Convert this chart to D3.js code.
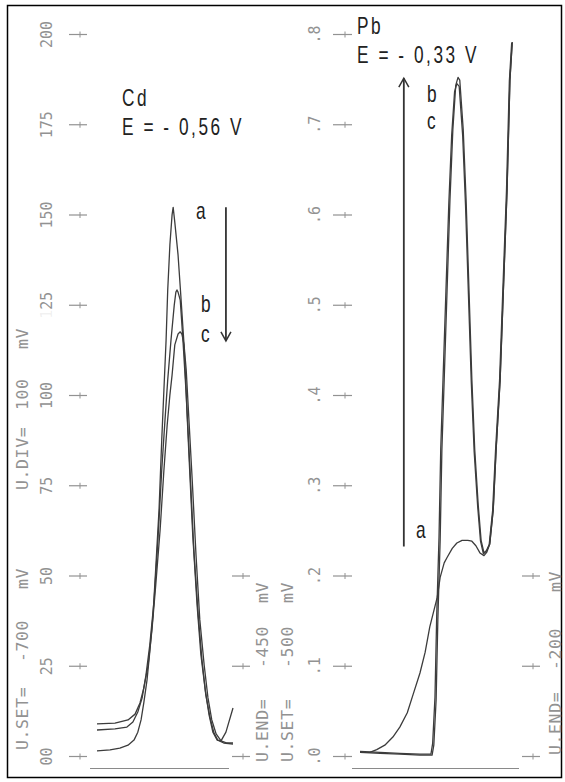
<!DOCTYPE html>
<html>
<head>
<meta charset="utf-8">
<script src="https://cdn.jsdelivr.net/npm/d3@7"></script>
<style>
  html, body { margin: 0; padding: 0; background: #fff; }
  svg { display: block; }
</style>
</head>
<body>
<svg id="chart" width="565" height="782"></svg>
<script>
// ---- Cd stripping peaks (potential in mV, current in scale units) ----
const cdE_a = [-700,-676,-658,-643,-632,-625,-619,-614,-608,-603,-597,-592,-586,-581,-577,-573,-570,-566,-562,-560,-557,-551,-546,-540,-535,-529,-522,-514,-507,-500,-492,-485,-478,-467,-450];
const cdI_a = [1.4,1.7,2.2,3.0,4.4,6.6,10.0,14.7,21.1,28.8,39.1,52.1,68.1,87.5,101.4,115.2,129.1,141.6,149.9,152.0,147.9,138.8,127.7,113.9,97.2,79.2,57.1,39.1,26.6,16.9,10.5,6.4,4.4,3.6,3.3];

const cdE_b = [-700,-667,-645,-634,-625,-617,-610,-603,-595,-588,-581,-575,-570,-564,-558,-555,-553,-551,-547,-542,-536,-531,-524,-516,-509,-501,-494,-487,-479,-472,-463,-450];
const cdI_b = [7.2,7.5,8.0,9.4,12.2,16.1,22.4,30.7,43.2,59.8,79.2,93.1,104.2,115.2,124.9,128.5,129.1,128.5,126.3,115.2,100.0,83.4,61.2,41.8,28.0,18.3,11.4,6.6,4.4,4.2,6.6,13.3];

const cdE_c = [-700,-667,-643,-630,-621,-614,-606,-599,-592,-584,-577,-571,-566,-562,-557,-551,-547,-544,-540,-536,-531,-525,-518,-511,-503,-496,-489,-481,-472,-461,-450];
const cdI_c = [8.9,9.1,10.0,11.6,14.7,18.8,25.2,34.9,47.4,62.6,79.2,91.7,100.0,105.5,113.9,116.9,117.5,116.9,113.9,106.9,93.1,76.5,55.7,37.7,25.2,16.1,10.0,6.1,4.2,3.6,3.6];

// ---- Pb stripping peaks ----
const pbE_a = [-500,-483,-471,-457,-443,-431,-418,-408,-396,-387,-379,-366,-361,-354,-349,-340,-332,-323,-313,-306,-299,-292,-285,-280,-275,-269,-264,-257,-252,-245,-240,-236];
const pbI_a = [0.004,0.004,0.007,0.012,0.021,0.032,0.048,0.068,0.092,0.115,0.143,0.176,0.198,0.214,0.220,0.230,0.236,0.239,0.239,0.238,0.233,0.225,0.222,0.226,0.235,0.273,0.339,0.417,0.505,0.627,0.749,0.791];

const pbE_b = [-500,-465,-431,-396,-375,-372,-368,-365,-361,-358,-354,-349,-344,-339,-334,-330,-327,-321,-316,-311,-306,-301,-295,-290,-285,-280,-275,-269,-264,-257,-252,-245,-240,-236];
const pbI_b = [0.004,0.003,0.002,0.001,0.001,0.012,0.062,0.151,0.239,0.339,0.417,0.516,0.616,0.694,0.743,0.752,0.749,0.694,0.616,0.516,0.417,0.339,0.278,0.239,0.225,0.228,0.235,0.273,0.339,0.417,0.505,0.627,0.749,0.791];

const pbE_c = [-500,-465,-431,-396,-377,-374,-370,-367,-363,-360,-356,-351,-346,-341,-336,-332,-328,-322,-317,-312,-307,-302,-296,-291,-286,-281,-276,-270,-265,-258,-253,-246,-241,-237];
const pbI_c = [0.005,0.004,0.003,0.002,0.002,0.014,0.065,0.155,0.242,0.340,0.418,0.515,0.612,0.688,0.736,0.745,0.742,0.688,0.610,0.512,0.414,0.337,0.277,0.238,0.224,0.227,0.234,0.272,0.338,0.416,0.504,0.626,0.748,0.790];

// ---- tick values and labels ----
const cdTicks = [0,25,50,75,100,125,150,175,200];
const cdTickLabels = ["00","25","50","75","100","125","150","175","200"];
const pbTicks = [0,0.1,0.2,0.3,0.4,0.5,0.6,0.7,0.8];
const pbTickLabels = [".0",".1",".2",".3",".4",".5",".6",".7",".8"];
const sideTicks = [0,0.1,0.2];

// ---- instrument settings ----
const cdSet = -700, cdEnd = -450, pbSet = -500, pbEnd = -200, uDiv = 100;

const svg = d3.select("#chart");
const GRAY = "#929292";
const MONO = "'DejaVu Sans Mono', 'Liberation Mono', monospace";
const SANS = "'Liberation Sans', Arial, sans-serif";

const cdX = d3.scaleLinear().domain([cdSet, cdEnd]).range([97, 233]);
const cdY = d3.scaleLinear().domain([0, 200]).range([756, 34]);
const pbX = d3.scaleLinear().domain([pbSet, pbEnd]).range([360, 533]);
const pbY = d3.scaleLinear().domain([0, 0.8]).range([756, 34]);

// outer frame
svg.append("rect").attr("x", 7.5).attr("y", 5.5).attr("width", 554).attr("height", 772)
  .attr("fill", "none").attr("stroke", "#000").attr("stroke-width", 1.5);

// baselines
svg.append("line").attr("x1", 90).attr("x2", 229).attr("y1", 768.5).attr("y2", 768.5)
  .attr("stroke", "#8a8a8a").attr("stroke-width", 1.2);
svg.append("line").attr("x1", 352).attr("x2", 519).attr("y1", 768.5).attr("y2", 768.5)
  .attr("stroke", "#8a8a8a").attr("stroke-width", 1.2);

function styleAxis(g, labelShift) {
  g.attr("font-family", MONO).attr("font-size", 15);
  g.select(".domain").remove();
  g.selectAll(".tick line").attr("stroke", GRAY).attr("stroke-width", 1.2);
  g.selectAll(".tick").append("line")
    .attr("x1", -7).attr("x2", -7).attr("y1", -3).attr("y2", 3)
    .attr("stroke", GRAY).attr("stroke-width", 1);
  g.selectAll(".tick text")
    .attr("x", null).attr("dy", "0.36em").attr("fill", GRAY)
    .attr("text-anchor", "middle")
    .attr("transform", `translate(${labelShift},0) rotate(-90)`);
}

// Cd current axis
const cdAxis = d3.axisLeft(cdY).tickValues(cdTicks).tickSize(18)
  .tickFormat((d, i) => cdTickLabels[i]);
const gCd = svg.append("g").attr("transform", "translate(87,0)").call(cdAxis);
styleAxis(gCd, -40);
// faded leading digit of 125
gCd.selectAll(".tick text").filter((d) => d === 125).each(function () {
  const t = d3.select(this); t.text(null);
  t.append("tspan").attr("fill-opacity", 0.15).text("1");
  t.append("tspan").text("25");
});

// Pb current axis
const pbAxis = d3.axisLeft(pbY).tickValues(pbTicks).tickSize(19)
  .tickFormat((d, i) => pbTickLabels[i]);
const gPb = svg.append("g").attr("transform", "translate(352,0)").call(pbAxis);
styleAxis(gPb, -37);

// short end-of-scan tick marks
[250, 540].forEach((x) => {
  const g = svg.append("g").attr("transform", `translate(${x},0)`)
    .call(d3.axisLeft(pbY).tickValues(sideTicks).tickSize(18).tickFormat(""));
  styleAxis(g, 0);
});

// rotated instrument notes: name, value and unit placed along the column
function note(x, parts) {
  parts.forEach(([y, str]) => {
    svg.append("text").attr("transform", `translate(${x},${y}) rotate(-90)`)
      .attr("dy", "0.36em").attr("font-family", MONO).attr("font-size", 16.5)
      .attr("letter-spacing", 0.6).attr("fill", GRAY).text(str);
  });
}
note(22, [[490, "U.DIV="], [410, String(uDiv)], [349, "mV"]]);
note(22, [[750, "U.SET="], [662, String(cdSet)], [589, "mV"]]);
note(262, [[762, "U.END="], [668, String(cdEnd)], [603, "mV"]]);
note(287, [[762, "U.SET="], [668, String(pbSet)], [603, "mV"]]);
note(555, [[755, "U.END="], [670, String(pbEnd)], [592, "mV"]]);

// curves
const lineCd = d3.line().x((d) => cdX(d[0])).y((d) => cdY(d[1]));
const linePb = d3.line().x((d) => pbX(d[0])).y((d) => pbY(d[1]));
const zip = (a, b) => a.map((v, i) => [v, b[i]]);

[[cdE_a, cdI_a], [cdE_b, cdI_b], [cdE_c, cdI_c]].forEach(([e, i]) => {
  svg.append("path").attr("d", lineCd(zip(e, i)))
    .attr("fill", "none").attr("stroke", "#3c3c3c").attr("stroke-width", 1.3)
    .attr("stroke-linejoin", "round");
});
[[pbE_a, pbI_a], [pbE_b, pbI_b], [pbE_c, pbI_c]].forEach(([e, i]) => {
  svg.append("path").attr("d", linePb(zip(e, i)))
    .attr("fill", "none").attr("stroke", "#3c3c3c").attr("stroke-width", 1.3)
    .attr("stroke-linejoin", "round");
});

// trend arrows
function arrow(x, y0, y1) {
  const dir = y1 > y0 ? -1 : 1;
  svg.append("line").attr("x1", x).attr("x2", x).attr("y1", y0).attr("y2", y1)
    .attr("stroke", "#333").attr("stroke-width", 1.8);
  svg.append("path")
    .attr("d", `M${x - 5},${y1 + dir * 9}L${x},${y1}L${x + 5},${y1 + dir * 9}`)
    .attr("fill", "none").attr("stroke", "#333").attr("stroke-width", 1.5);
}
arrow(cdX(-463), cdY(152), cdY(115));
arrow(pbX(-424), pbY(0.232), pbY(0.751));

// labels
function label(x, y, str) {
  svg.append("text").attr("transform", `translate(${x},${y}) scale(0.75,1)`)
    .attr("font-family", SANS).attr("font-size", 23).attr("letter-spacing", 3.4)
    .attr("fill", "#222").text(str);
}
label(122, 106, "Cd");
label(122, 135, "E = - 0,56 V");
label(357, 34, "Pb");
label(357, 63, "E = - 0,33 V");
label(196, 219, "a");
label(201, 312, "b");
label(201, 342, "c");
label(427, 102, "b");
label(427, 129, "c");
label(416, 538, "a");
</script>
</body>
</html>
